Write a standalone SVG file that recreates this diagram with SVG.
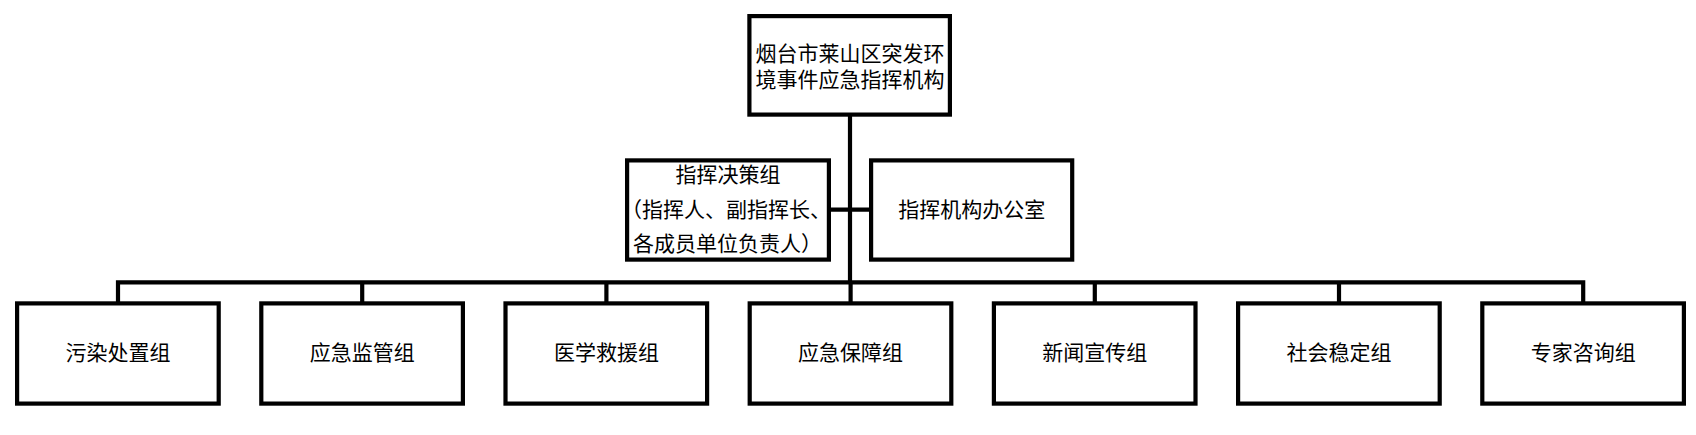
<svg xmlns="http://www.w3.org/2000/svg" width="1696" height="435" viewBox="0 0 1696 435">
<style>
.box{fill:#fff;stroke:#000;stroke-width:4.2}
.ln{fill:none;stroke:#000;stroke-width:4.2}
text{font-family:"Noto Sans CJK SC","Noto Sans",sans-serif;font-size:21px;fill:#000;text-anchor:middle}
</style>
<rect width="1696" height="435" fill="#fff"/>
<g id="connectors">
<line class="ln" x1="850" y1="114" x2="850" y2="282.3"/>
<line class="ln" x1="829" y1="209.7" x2="871" y2="209.7"/>
<polyline class="ln" points="118,303.4 118,282.3 1583.2,282.3 1583.2,303.4"/>
<line class="ln" x1="362.2" y1="282.3" x2="362.2" y2="303.4"/>
<line class="ln" x1="606.4" y1="282.3" x2="606.4" y2="303.4"/>
<line class="ln" x1="850.6" y1="282.3" x2="850.6" y2="303.4"/>
<line class="ln" x1="1094.8" y1="282.3" x2="1094.8" y2="303.4"/>
<line class="ln" x1="1339" y1="282.3" x2="1339" y2="303.4"/>
</g>
<g id="top">
<rect class="box" x="749.4" y="16.1" width="200.5" height="98.5"/>
<text x="850" y="61">烟台市莱山区突发环</text>
<text x="850" y="86.5">境事件应急指挥机构</text>
</g>
<g id="decision">
<rect class="box" x="627.1" y="160.4" width="201.8" height="99.2"/>
<text x="728" y="182">指挥决策组</text>
<text x="726" y="217">（指挥人、副指挥长、</text>
<text x="727.5" y="250.5">各成员单位负责人）</text>
</g>
<g id="office">
<rect class="box" x="871.1" y="160.4" width="201.1" height="99.2"/>
<text x="971.7" y="217">指挥机构办公室</text>
</g>
<g id="g1"><rect class="box" x="17.1" y="303.4" width="201.6" height="100.2"/><text x="118" y="360">污染处置组</text></g>
<g id="g2"><rect class="box" x="261.3" y="303.4" width="201.6" height="100.2"/><text x="362.2" y="360">应急监管组</text></g>
<g id="g3"><rect class="box" x="505.5" y="303.4" width="201.6" height="100.2"/><text x="606.4" y="360">医学救援组</text></g>
<g id="g4"><rect class="box" x="749.7" y="303.4" width="201.6" height="100.2"/><text x="850.6" y="360">应急保障组</text></g>
<g id="g5"><rect class="box" x="993.9" y="303.4" width="201.6" height="100.2"/><text x="1094.8" y="360">新闻宣传组</text></g>
<g id="g6"><rect class="box" x="1238.1" y="303.4" width="201.6" height="100.2"/><text x="1339" y="360">社会稳定组</text></g>
<g id="g7"><rect class="box" x="1482.3" y="303.4" width="201.6" height="100.2"/><text x="1583.2" y="360">专家咨询组</text></g>
</svg>
